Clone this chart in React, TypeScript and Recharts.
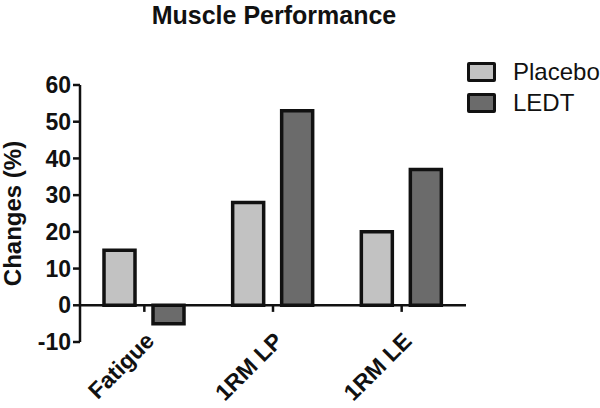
import { BarChart, Bar, XAxis, YAxis, ReferenceLine } from 'recharts';

const categories = ['Fatigue', '1RM LP', '1RM LE'];
const placebo = [15, 28, 20];
const ledt = [-5, 53, 37];
const yTicks = [-10, 0, 10, 20, 30, 40, 50, 60];
const seriesNames = ['Placebo', 'LEDT'];
const seriesColors = ['#c2c2c2', '#6b6b6b'];

const data = categories.map((name, i) => ({ name, placebo: placebo[i], ledt: ledt[i] }));

const FONT = 'Arial, "Liberation Sans", Helvetica, sans-serif';

function XTick(props: any) {
  const { x, y, payload } = props;
  return (
    <g transform={`translate(${x},${y - 19})`}>
      <text
        textAnchor="end"
        transform="rotate(-45)"
        dy={16}
        fontFamily={FONT}
        fontWeight="bold"
        fontSize={23}
        fill="#111"
      >
        {payload.value}
      </text>
    </g>
  );
}

export default function App() {
  return (
    <div style={{ position: 'absolute', left: 0, top: 0, width: 600, height: 408, background: '#fff', overflow: 'hidden' }}>
      <div
        style={{
          position: 'absolute',
          top: 2,
          left: 0,
          width: 548,
          textAlign: 'center',
          fontFamily: FONT,
          fontWeight: 'bold',
          fontSize: 25,
          lineHeight: '26px',
          color: '#111',
        }}
      >
        Muscle Performance
      </div>
      <div style={{ position: 'absolute', left: 467, top: 56, fontFamily: FONT }}>
        {seriesNames.map((s, i) => (
          <div key={s} style={{ display: 'flex', alignItems: 'center', height: 31 }}>
            <div
              style={{
                width: 23,
                height: 14,
                background: seriesColors[i],
                border: '3px solid #111',
                borderRadius: 2,
                marginRight: 17,
              }}
            />
            <span style={{ fontSize: 24, color: '#111' }}>{s}</span>
          </div>
        ))}
      </div>
      <BarChart
        width={600}
        height={408}
        data={data}
        margin={{ top: 85, right: 134, bottom: 0, left: 0 }}
        barSize={31}
        barGap={18}
      >
        <XAxis
          dataKey="name"
          axisLine={false}
          tickLine={false}
          height={66}
          interval={0}
          tick={<XTick />}
        />
        <YAxis
          width={80}
          domain={[-10, 60]}
          ticks={yTicks}
          interval={0}
          tickSize={7}
          tickMargin={2}
          axisLine={{ stroke: '#111', strokeWidth: 2.5 }}
          tickLine={{ stroke: '#111', strokeWidth: 2.5 }}
          tick={{ fontFamily: FONT, fontWeight: 'bold', fontSize: 23, fill: '#111' }}
          label={{
            value: 'Changes (%)',
            angle: -90,
            position: 'insideLeft',
            offset: 12,
            style: { textAnchor: 'middle', fontFamily: FONT, fontWeight: 'bold', fontSize: 24, fill: '#111' },
          }}
        />
        <Bar dataKey="placebo" name={seriesNames[0]} fill={seriesColors[0]} stroke="#111" strokeWidth={3.5} isAnimationActive={false} />
        <Bar dataKey="ledt" name={seriesNames[1]} fill={seriesColors[1]} stroke="#111" strokeWidth={3.5} isAnimationActive={false} />
        <ReferenceLine y={0} stroke="#111" strokeWidth={2.5} />
        {categories.map((c) => (
          <ReferenceLine
            key={c}
            segment={[
              { x: c, y: 0 },
              { x: c, y: -1.8 },
            ]}
            stroke="#111"
            strokeWidth={2.5}
          />
        ))}
      </BarChart>
    </div>
  );
}
